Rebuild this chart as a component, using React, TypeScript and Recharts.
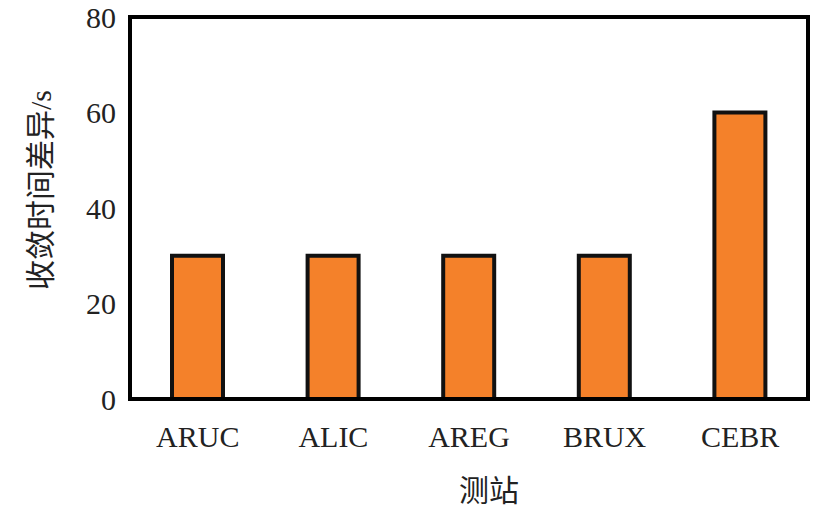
import { BarChart, Bar, XAxis, YAxis, Label, ReferenceArea } from 'recharts';

const stations = ['ARUC', 'ALIC', 'AREG', 'BRUX', 'CEBR'];
const diffs = [30, 30, 30, 30, 60];
const yTicks = [0, 20, 40, 60, 80];

const data = stations.map((name, i) => ({ name, diff: diffs[i] }));

const serif = '"Liberation Serif", "Times New Roman", "Noto Sans CJK SC", serif';
const frame = { stroke: '#000', strokeWidth: 4 };

export default function App() {
  return (
    <div style={{ position: 'absolute', left: 0, top: 0, background: '#fff' }}>
      <BarChart
        width={822}
        height={516}
        data={data}
        margin={{ top: 17, right: 14, left: 0, bottom: 0 }}
      >
        <XAxis
          dataKey="name"
          height={117}
          axisLine={frame}
          tickLine={false}
          tickSize={0}
          tickMargin={27}
          tick={{ fill: '#222', fontSize: 30, fontFamily: serif }}
        >
          <Label
            content={({ viewBox }: any) => (
              <text
                x={viewBox.x + viewBox.width / 2 + 20}
                y={viewBox.y + 102}
                textAnchor="middle"
                fontSize={30}
                fontFamily={serif}
                fill="#222"
              >
                测站
              </text>
            )}
          />
        </XAxis>
        <YAxis
          width={130}
          domain={[0, 80]}
          ticks={yTicks}
          axisLine={frame}
          tickLine={false}
          tickSize={0}
          tickMargin={14}
          tick={{ fill: '#222', fontSize: 30, fontFamily: serif }}
        >
          <Label
            content={({ viewBox }: any) => (
              <text
                transform={`translate(${viewBox.x + 40},${viewBox.y + viewBox.height / 2 - 18}) rotate(-90)`}
                textAnchor="middle"
                dominantBaseline="central"
                fontSize={30}
                fontFamily={serif}
                fill="#222"
              >
                收敛时间差异/s
              </text>
            )}
          />
        </YAxis>
        {/* box around the plot */}
        <ReferenceArea
          x1={stations[0]}
          x2={stations[stations.length - 1]}
          y1={0}
          y2={80}
          fill="none"
          fillOpacity={0}
          stroke="#000"
          strokeWidth={4}
          ifOverflow="visible"
        />
        <Bar
          dataKey="diff"
          fill="#F4812A"
          stroke="#111"
          strokeWidth={4}
          barSize={51}
          isAnimationActive={false}
        />
      </BarChart>
    </div>
  );
}
